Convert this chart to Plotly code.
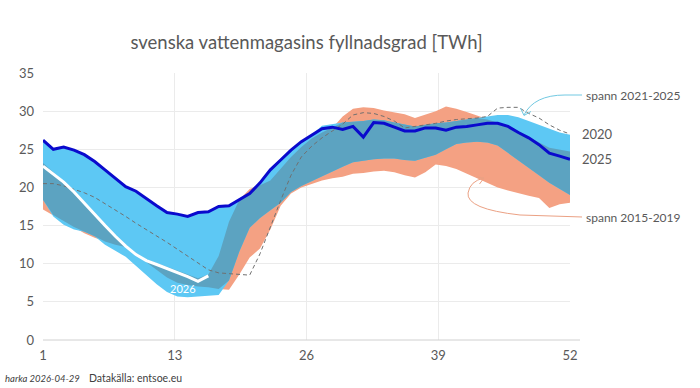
import plotly.graph_objects as go

# ---------------- data ----------------
weeks = list(range(1, 53))
tick_labels = ["1", "13", "26", "39", "52"]

y2025 = [26.2, 25.0, 25.3, 24.9, 24.3, 23.4, 22.3, 21.2, 20.1, 19.5,
         18.5, 17.6, 16.7, 16.5, 16.2, 16.7, 16.8, 17.5, 17.6, 18.4,
         19.2, 20.6, 22.3, 23.6, 24.9, 26.0, 26.9, 27.7, 27.9, 27.6,
         28.0, 26.6, 28.5, 28.4, 27.9, 27.4, 27.4, 27.8, 27.8, 27.5,
         27.9, 28.0, 28.2, 28.4, 28.4, 28.0, 27.2, 26.5, 25.6, 24.5,
         24.1, 23.7]

weeks2026 = list(range(1, 18))
y2026 = [22.8, 21.8, 20.7, 19.4, 17.9, 16.4, 15.0, 13.6, 12.3, 11.2,
         10.4, 9.9, 9.4, 8.9, 8.3, 7.7, 8.4]

y2020 = [20.5, 20.5, 20.2, 19.8, 19.3, 18.7, 17.9, 17.0, 16.2, 15.3,
         14.5, 13.6, 12.8, 11.9, 11.0, 10.0, 9.2, 8.8, 8.7, 8.6,
         8.5, 11.3, 14.9, 18.3, 21.6, 24.0, 25.4, 26.5, 27.4, 28.3,
         29.5, 29.8, 29.7, 29.3, 28.7, 27.8, 28.0, 28.2, 28.4, 28.7,
         28.9, 29.0, 29.1, 29.3, 30.4, 30.5, 30.5, 29.7, 29.1, 28.2,
         27.5, 27.0]

# span 2021-2025 (max / min)
span21_hi = [26.2, 25.0, 25.3, 24.9, 24.3, 23.4, 22.3, 21.2, 20.1, 19.5,
             18.5, 17.6, 16.7, 16.5, 16.2, 16.7, 16.8, 17.5, 17.6, 18.4,
             19.2, 20.6, 22.3, 23.6, 24.9, 26.0, 26.9, 28.1, 28.3, 28.5,
             28.6, 28.7, 28.9, 28.8, 28.5, 28.2, 28.0, 28.2, 28.4, 28.5,
             28.7, 28.9, 29.1, 29.3, 29.5, 29.5, 29.2, 28.7, 28.2, 27.7,
             27.2, 26.9]
span21_lo = [18.4, 16.2, 15.1, 14.5, 14.2, 13.6, 12.5, 11.7, 10.9, 9.8,
             8.5, 7.3, 6.3, 5.7, 5.6, 5.7, 5.8, 5.9, 7.8, 11.6,
             14.7, 16.0, 17.0, 18.0, 19.4, 20.2, 20.9, 21.5, 22.1, 22.7,
             23.3, 23.5, 23.7, 23.8, 23.8, 23.6, 23.5, 23.9, 24.3, 25.0,
             25.7, 25.9, 26.0, 25.9, 25.5, 24.6, 23.6, 22.6, 21.6, 20.6,
             19.8, 19.0]

# span 2015-2019 (max / min)
span15_hi = [23.2, 22.0, 20.9, 19.6, 18.1, 16.6, 15.2, 13.8, 12.5, 11.4,
             10.6, 10.1, 9.6, 9.1, 8.6, 8.1, 8.6, 11.0, 15.5, 18.4,
             19.8, 20.3, 20.9, 22.5, 24.0, 25.3, 26.4, 27.2, 27.8, 29.3,
             30.3, 30.5, 30.4, 30.1, 29.9, 29.6, 29.1, 29.5, 30.0, 30.6,
             30.3, 29.9, 29.4, 28.9, 28.5, 28.1, 27.4, 26.6, 25.9, 25.2,
             24.9, 24.7]
span15_lo = [17.1, 16.4, 15.6, 14.8, 14.0, 13.4, 12.9, 12.5, 12.2, 11.3,
             10.3, 9.2, 8.2, 7.5, 7.2, 7.0, 6.9, 6.7, 6.6, 8.6,
             10.8, 12.0, 14.5, 17.6, 19.2, 20.0, 20.5, 20.9, 21.2, 21.4,
             21.8, 21.9, 22.1, 22.2, 22.0, 21.6, 21.3, 22.0, 23.0, 22.8,
             22.4, 21.9, 21.3, 20.6, 20.0, 19.6, 19.2, 18.9, 18.6, 17.3,
             17.8, 18.0]

# ---------------- styling ----------------
W, H = 700, 388
ML, MR, MT, MB = 43, 130, 73, 48
FONT = "Lato"
GREY = "#595959"
C_SALMON = "#F4A183"
C_LBLUE = "#5DC8F4"
C_OVER = "#5CA3C1"
C_2025 = "#0A0ACD"

ov_hi = [min(a, b) for a, b in zip(span21_hi, span15_hi)]
ov_lo = [max(a, b) for a, b in zip(span21_lo, span15_lo)]


def band(lo, hi, color, name):
    return go.Scatter(x=weeks + weeks[::-1], y=hi + lo[::-1], fill="toself",
                      fillcolor=color, line=dict(width=0), mode="lines",
                      name=name, hoverinfo="skip", showlegend=False)


fig = go.Figure()
fig.add_trace(band(span15_lo, span15_hi, C_SALMON, "spann 2015-2019"))
fig.add_trace(band(span21_lo, span21_hi, C_LBLUE, "spann 2021-2025"))
fig.add_trace(band(ov_lo, ov_hi, C_OVER, "overlapp"))
fig.add_trace(go.Scatter(x=weeks, y=y2020, mode="lines", name="2020",
                         line=dict(color="#707070", width=1, dash="4px,3px"),
                         showlegend=False))
fig.add_trace(go.Scatter(x=weeks, y=y2025, mode="lines", name="2025",
                         line=dict(color=C_2025, width=3), showlegend=False))
fig.add_trace(go.Scatter(x=weeks2026, y=y2026, mode="lines", name="2026",
                         line=dict(color="white", width=3), showlegend=False))

pw = W - ML - MR
ph = H - MT - MB


def P(x, y):
    return f"{(x - ML) / pw:.4f},{(H - MB - y) / ph:.4f}"


# curved pointer arrows (decoration)
blue_arrow = f"M {P(582, 95)} L {P(565, 95)} Q {P(534, 95)} {P(524, 115)}"
blue_head = f"M {P(520.5, 108)} L {P(524, 115.5)} L {P(531, 111.5)}"
sal_arrow = f"M {P(582, 217)} L {P(520, 215)} Q {P(466, 209)} {P(468, 193)} Q {P(470, 181)} {P(484, 178)}"
sal_head = f"M {P(477, 177)} L {P(484, 178)} L {P(479.5, 184)}"

shapes = [
    dict(type="line", xref="paper", yref="paper", x0=0, x1=(580 - ML) / pw,
         y0=0, y1=0, line=dict(color="#d0d0d0", width=1)),
    dict(type="path", xref="paper", yref="paper", path=blue_arrow,
         line=dict(color="#72C9E2", width=1)),
    dict(type="path", xref="paper", yref="paper", path=blue_head,
         line=dict(color="#72C9E2", width=1)),
    dict(type="path", xref="paper", yref="paper", path=sal_arrow,
         line=dict(color="#EBA184", width=1)),
    dict(type="path", xref="paper", yref="paper", path=sal_head,
         line=dict(color="#EBA184", width=1)),
]

annotations = [
    dict(text="spann 2021-2025", xref="paper", yref="paper",
         x=(584 - ML) / pw, y=(H - MB - 95) / ph, xanchor="left", yanchor="middle",
         showarrow=False, font=dict(size=12, color=GREY, family=FONT)),
    dict(text="spann 2015-2019", xref="paper", yref="paper",
         x=(584 - ML) / pw, y=(H - MB - 217) / ph, xanchor="left", yanchor="middle",
         showarrow=False, font=dict(size=12, color=GREY, family=FONT)),
    dict(text="2020", x=weeks[-1], y=y2020[-1], xref="x", yref="y",
         xanchor="left", yanchor="middle", xshift=10, showarrow=False,
         font=dict(size=13, color=GREY, family=FONT)),
    dict(text="2025", x=weeks[-1], y=y2025[-1], xref="x", yref="y",
         xanchor="left", yanchor="middle", xshift=10, showarrow=False,
         font=dict(size=13, color=GREY, family=FONT)),
    dict(text="2026", x=14.5, y=6.7, xref="x", yref="y",
         xanchor="center", yanchor="middle", showarrow=False,
         font=dict(size=11, color="white", family=FONT)),
    dict(text="<i>harka 2026-04-29</i>", xref="paper", yref="paper",
         x=(3 - ML) / pw, y=(H - MB - 378) / ph, xanchor="left", yanchor="middle",
         showarrow=False, font=dict(size=9.5, color="#404040", family=FONT)),
    dict(text="Datakälla: entsoe.eu", xref="paper", yref="paper",
         x=(87 - ML) / pw, y=(H - MB - 378) / ph, xanchor="left", yanchor="middle",
         showarrow=False, font=dict(size=10.5, color="#404040", family=FONT)),
]

fig.update_layout(
    width=W, height=H,
    margin=dict(l=ML, r=MR, t=MT, b=MB),
    paper_bgcolor="white", plot_bgcolor="white",
    title=dict(text="svenska vattenmagasins fyllnadsgrad [TWh]",
               x=0.5, xref="paper", xanchor="center",
               y=1 - 43 / H, yref="container", yanchor="middle",
               font=dict(size=18.5, color=GREY, family=FONT)),
    showlegend=False,
    shapes=shapes,
    annotations=annotations,
    xaxis=dict(range=[1, 52], tickmode="array",
               tickvals=[1, 13.75, 26.5, 39.25, 52], ticktext=tick_labels,
               showgrid=True, gridcolor="#ebebeb", gridwidth=1,
               zeroline=False, showline=False, ticks="",
               tickfont=dict(size=13, color=GREY, family=FONT),
               ticklabelstandoff=6, fixedrange=True),
    yaxis=dict(range=[0, 35], dtick=5, tick0=0,
               showgrid=True, gridcolor="#ebebeb", gridwidth=1,
               zeroline=False, showline=False, ticks="",
               tickfont=dict(size=13, color=GREY, family=FONT),
               ticklabelstandoff=8, fixedrange=True),
)

fig.write_html("out.html")
